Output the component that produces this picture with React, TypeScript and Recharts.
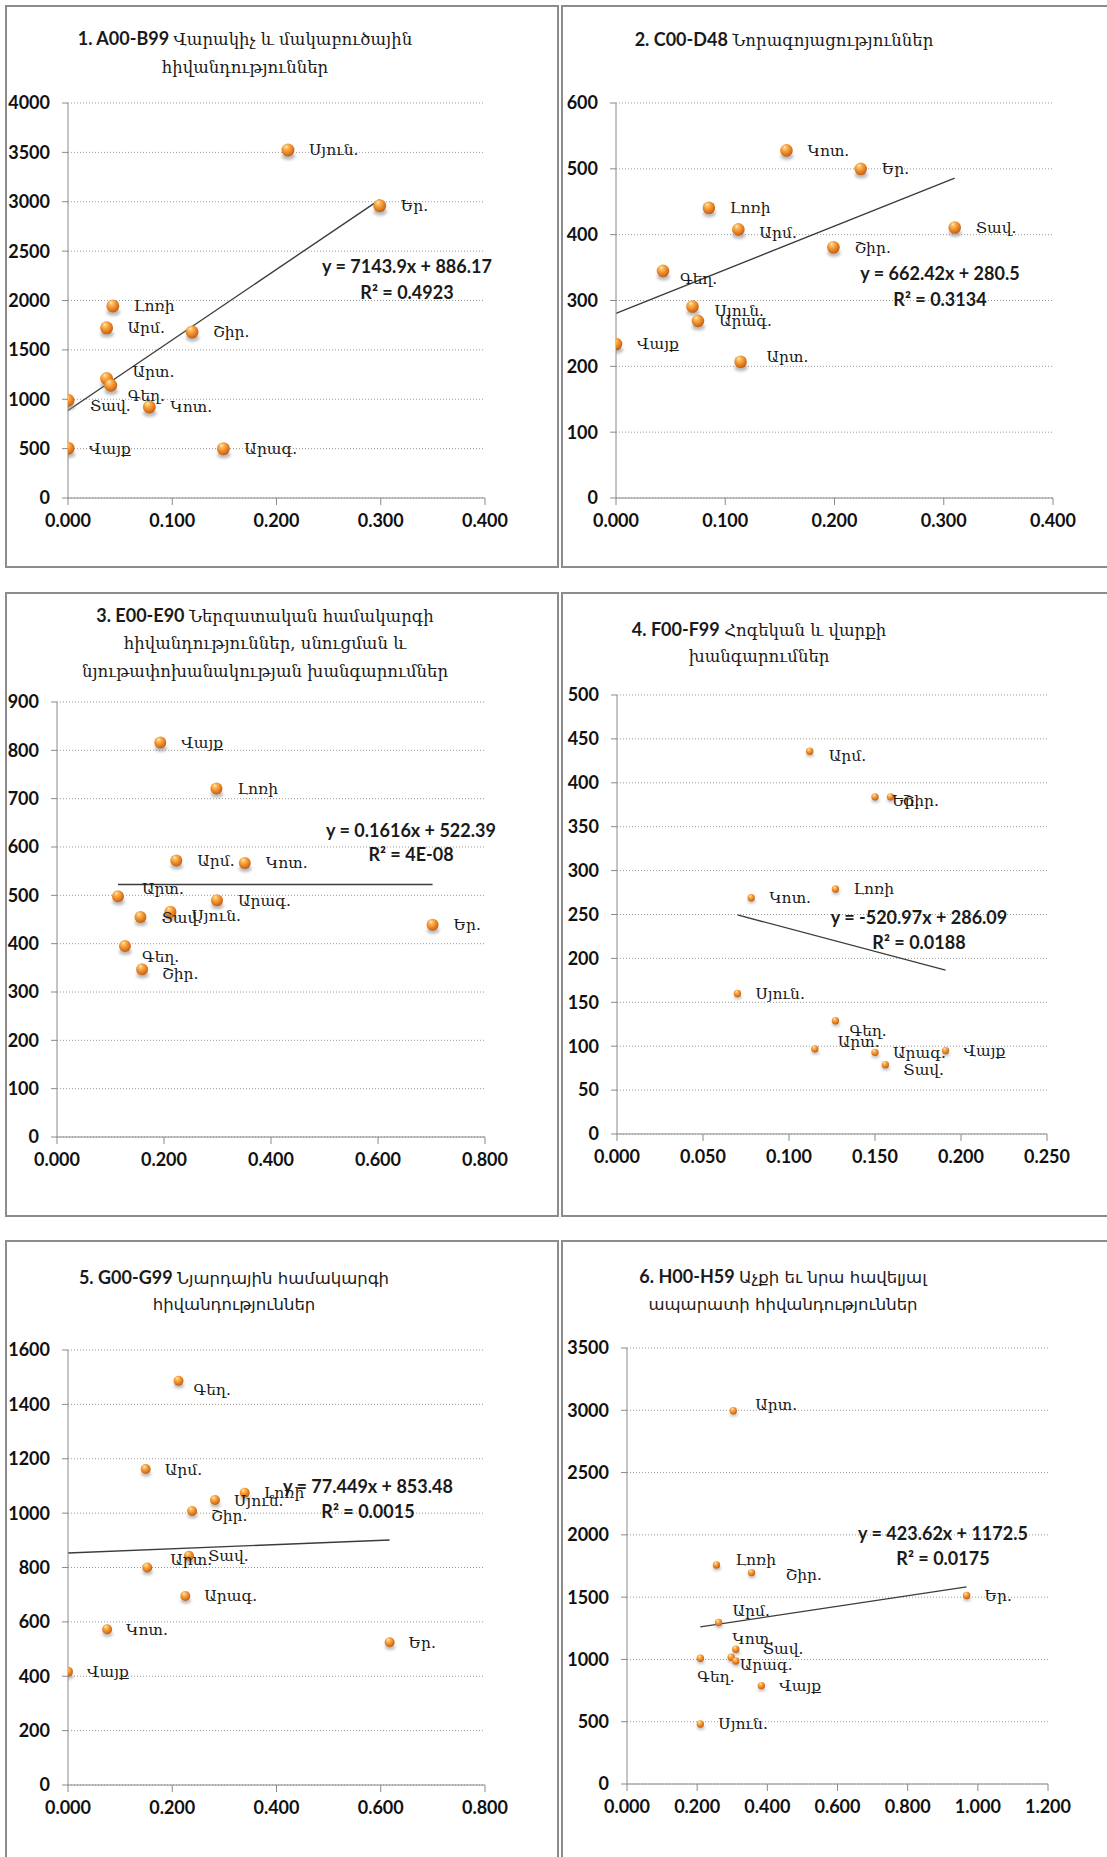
import React from 'react';
import { ScatterChart, Scatter, XAxis, YAxis, CartesianGrid, ReferenceLine } from 'recharts';

// ---- Panel 1: A00-B99 ----
const P1_NAMES = ['Սյուն.', 'Եր.', 'Լոռի', 'Արմ.', 'Շիր.', 'Արտ.', 'Գեղ.', 'Տավ.', 'Կոտ.', 'Վայք', 'Արագ.'];
const P1_X = [0.211, 0.299, 0.043, 0.037, 0.119, 0.037, 0.041, 0.0, 0.078, 0.0, 0.149];
const P1_Y = [3524, 2960, 1945, 1723, 1682, 1210, 1142, 990, 922, 505, 500];
const P1_XTICKS = [0, 0.1, 0.2, 0.3, 0.4];
const P1_YTICKS = [0, 500, 1000, 1500, 2000, 2500, 3000, 3500, 4000];
const P1_TREND = { slope: 7143.9, intercept: 886.17, r2: '0.4923' };

// ---- Panel 2: C00-D48 ----
const P2_NAMES = ['Կոտ.', 'Եր.', 'Լոռի', 'Արմ.', 'Տավ.', 'Շիր.', 'Գեղ.', 'Սյուն.', 'Արագ.', 'Վայք', 'Արտ.'];
const P2_X = [0.156, 0.224, 0.085, 0.112, 0.31, 0.199, 0.043, 0.07, 0.075, 0.0, 0.114];
const P2_Y = [528, 500, 441, 408, 411, 381, 345, 291, 269, 234, 207];
const P2_XTICKS = [0, 0.1, 0.2, 0.3, 0.4];
const P2_YTICKS = [0, 100, 200, 300, 400, 500, 600];
const P2_TREND = { slope: 662.42, intercept: 280.5, r2: '0.3134' };

// ---- Panel 3: E00-E90 ----
const P3_NAMES = ['Վայք', 'Լոռի', 'Արմ.', 'Կոտ.', 'Արտ.', 'Արագ.', 'Տավ.', 'Սյուն.', 'Եր.', 'Գեղ.', 'Շիր.'];
const P3_X = [0.193, 0.298, 0.223, 0.351, 0.114, 0.299, 0.156, 0.212, 0.702, 0.127, 0.159];
const P3_Y = [816, 721, 572, 567, 498, 490, 455, 466, 439, 395, 347];
const P3_XTICKS = [0, 0.2, 0.4, 0.6, 0.8];
const P3_YTICKS = [0, 100, 200, 300, 400, 500, 600, 700, 800, 900];
const P3_TREND = { slope: 0.1616, intercept: 522.39, r2: '4E-08' };

// ---- Panel 4: F00-F99 ----
const P4_NAMES = ['Արմ.', 'Եր.', 'Շիր.', 'Կոտ.', 'Լոռի', 'Սյուն.', 'Գեղ.', 'Արտ.', 'Արագ.', 'Տավ.', 'Վայք'];
const P4_X = [0.112, 0.15, 0.159, 0.078, 0.127, 0.07, 0.127, 0.115, 0.15, 0.156, 0.191];
const P4_Y = [436, 384, 384, 269, 279, 160, 129, 97, 93, 79, 95];
const P4_XTICKS = [0, 0.05, 0.1, 0.15, 0.2, 0.25];
const P4_YTICKS = [0, 50, 100, 150, 200, 250, 300, 350, 400, 450, 500];
const P4_TREND = { slope: -520.97, intercept: 286.09, r2: '0.0188' };

// ---- Panel 5: G00-G99 ----
const P5_NAMES = ['Գեղ.', 'Արմ.', 'Լոռի', 'Սյուն.', 'Շիր.', 'Տավ.', 'Արտ.', 'Արագ.', 'Կոտ.', 'Եր.', 'Վայք'];
const P5_X = [0.212, 0.149, 0.339, 0.282, 0.238, 0.232, 0.152, 0.225, 0.075, 0.617, 0.0];
const P5_Y = [1487, 1162, 1075, 1048, 1008, 843, 800, 695, 573, 525, 417];
const P5_XTICKS = [0, 0.2, 0.4, 0.6, 0.8];
const P5_YTICKS = [0, 200, 400, 600, 800, 1000, 1200, 1400, 1600];
const P5_TREND = { slope: 77.449, intercept: 853.48, r2: '0.0015' };

// ---- Panel 6: H00-H59 ----
const P6_NAMES = ['Արտ.', 'Լոռի', 'Շիր.', 'Եր.', 'Արմ.', 'Կոտ.', 'Տավ.', 'Արագ.', 'Գեղ.', 'Վայք', 'Սյուն.'];
const P6_X = [0.303, 0.255, 0.355, 0.968, 0.261, 0.297, 0.31, 0.31, 0.209, 0.383, 0.209];
const P6_Y = [2996, 1759, 1697, 1513, 1296, 1018, 1082, 988, 1010, 790, 482];
const P6_XTICKS = [0, 0.2, 0.4, 0.6, 0.8, 1.0, 1.2];
const P6_YTICKS = [0, 500, 1000, 1500, 2000, 2500, 3000, 3500];
const P6_TREND = { slope: 423.62, intercept: 1172.5, r2: '0.0175' };

// Titles: bold code followed by the group name (wrapped lines)
const P1_TITLE = { code: '1. A00-B99', lines: ['Վարակիչ և մակաբուծային', 'հիվանդություններ'] };
const P2_TITLE = { code: '2. C00-D48', lines: ['Նորագոյացություններ'] };
const P3_TITLE = { code: '3. E00-E90', lines: ['Ներզատական համակարգի', 'հիվանդություններ, սնուցման և', 'նյութափոխանակության խանգարումներ'] };
const P4_TITLE = { code: '4. F00-F99', lines: ['Հոգեկան և վարքի', 'խանգարումներ'] };
const P5_TITLE = { code: '5. G00-G99', lines: ['Նյարդային համակարգի', 'հիվանդություններ'] };
const P6_TITLE = { code: '6. H00-H59', lines: ['Աչքի եւ նրա հավելյալ', 'ապարատի հիվանդություններ'] };

type Box = { left: number; top: number; w: number; h: number };
type Plot = { x0: number; x1: number; y0: number; y1: number };

type PanelCfg = {
  names: string[];
  xs: number[];
  ys: number[];
  xTicks: number[];
  yTicks: number[];
  trend: { slope: number; intercept: number; r2: string };
  title: { code: string; lines: string[] };
  box: Box;
  plot: Plot;
  radius: number;
  labelDx: number;
  nudges: Record<string, [number, number]>;
  titlePos: { cx: number; cy: number; lh: number; serif: boolean };
  eqPos: { cx: number; cy1: number; cy2: number };
};

const X_AXIS_H = 44;
const TICK_STYLE = { fill: '#111', fontSize: 18, fontWeight: 700, fontFamily: 'Lato, "DejaVu Sans", sans-serif' };
const LABEL_FONT = '"DejaVu Serif", serif';

const PANELS: PanelCfg[] = [
  {
    names: P1_NAMES, xs: P1_X, ys: P1_Y, xTicks: P1_XTICKS, yTicks: P1_YTICKS, trend: P1_TREND, title: P1_TITLE,
    box: { left: 5, top: 5, w: 554, h: 563 },
    plot: { x0: 68, x1: 485, y0: 103, y1: 498 },
    radius: 6.5, labelDx: 21,
    nudges: { 'Արտ.': [26, -7], 'Գեղ.': [17, 10], 'Տավ.': [22, 5] },
    titlePos: { cx: 245, cy: 39, lh: 29, serif: true },
    eqPos: { cx: 407, cy1: 266, cy2: 292 },
  },
  {
    names: P2_NAMES, xs: P2_X, ys: P2_Y, xTicks: P2_XTICKS, yTicks: P2_YTICKS, trend: P2_TREND, title: P2_TITLE,
    box: { left: 561, top: 5, w: 560, h: 563 },
    plot: { x0: 616, x1: 1053, y0: 103, y1: 498 },
    radius: 6.3, labelDx: 21,
    nudges: { 'Գեղ.': [17, 8], 'Սյուն.': [22, 4], 'Արտ.': [26, -5], 'Արմ.': [21, 3] },
    titlePos: { cx: 784, cy: 40, lh: 29, serif: true },
    eqPos: { cx: 940, cy1: 273, cy2: 299 },
  },
  {
    names: P3_NAMES, xs: P3_X, ys: P3_Y, xTicks: P3_XTICKS, yTicks: P3_YTICKS, trend: P3_TREND, title: P3_TITLE,
    box: { left: 5, top: 592, w: 554, h: 625 },
    plot: { x0: 57, x1: 485, y0: 702, y1: 1137 },
    radius: 6, labelDx: 21,
    nudges: { 'Արտ.': [24, -8], 'Սյուն.': [21, 4], 'Գեղ.': [17, 10], 'Շիր.': [20, 4] },
    titlePos: { cx: 265, cy: 616, lh: 28, serif: true },
    eqPos: { cx: 411, cy1: 830, cy2: 854 },
  },
  {
    names: P4_NAMES, xs: P4_X, ys: P4_Y, xTicks: P4_XTICKS, yTicks: P4_YTICKS, trend: P4_TREND, title: P4_TITLE,
    box: { left: 561, top: 592, w: 560, h: 625 },
    plot: { x0: 617, x1: 1047, y0: 695, y1: 1134 },
    radius: 3.7, labelDx: 18,
    nudges: { 'Գեղ.': [14, 10], 'Արտ.': [23, -7], 'Եր.': [17, 4], 'Շիր.': [12, 4], 'Տավ.': [18, 5], 'Արմ.': [19, 4] },
    titlePos: { cx: 759, cy: 630, lh: 27, serif: true },
    eqPos: { cx: 919, cy1: 917, cy2: 942 },
  },
  {
    names: P5_NAMES, xs: P5_X, ys: P5_Y, xTicks: P5_XTICKS, yTicks: P5_YTICKS, trend: P5_TREND, title: P5_TITLE,
    box: { left: 5, top: 1240, w: 554, h: 640 },
    plot: { x0: 68, x1: 485, y0: 1350, y1: 1785 },
    radius: 5, labelDx: 19,
    nudges: { 'Գեղ.': [15, 9], 'Արտ.': [23, -8], 'Շիր.': [19, 5] },
    titlePos: { cx: 234, cy: 1278, lh: 27, serif: false },
    eqPos: { cx: 368, cy1: 1486, cy2: 1511 },
  },
  {
    names: P6_NAMES, xs: P6_X, ys: P6_Y, xTicks: P6_XTICKS, yTicks: P6_YTICKS, trend: P6_TREND, title: P6_TITLE,
    box: { left: 561, top: 1240, w: 560, h: 640 },
    plot: { x0: 627, x1: 1048, y0: 1348, y1: 1784 },
    radius: 3.7, labelDx: 18,
    nudges: {
      'Արտ.': [22, -6], 'Լոռի': [19, -5], 'Շիր.': [34, 2], 'Արմ.': [14, -12], 'Կոտ.': [1, -19],
      'Տավ.': [27, -1], 'Արագ.': [4, 4], 'Գեղ.': [-3, 18],
    },
    titlePos: { cx: 783, cy: 1277, lh: 28, serif: false },
    eqPos: { cx: 943, cy1: 1533, cy2: 1558 },
  },
];

function Ball({ cx, cy, r }: { cx: number; cy: number; r: number }) {
  if (cx == null || cy == null) return null;
  return (
    <g>
      <ellipse cx={cx + 0.5} cy={cy + r * 0.95} rx={r * 1.05} ry={r * 0.55} fill="#8a8a8a" opacity={0.6} filter="url(#ballShadow)" />
      <circle cx={cx} cy={cy} r={r} fill="url(#ballFill)" />
    </g>
  );
}

function PointLabel({ cx, cy, name, cfg }: { cx: number; cy: number; name: string; cfg: PanelCfg }) {
  if (cx == null || cy == null) return null;
  const n = cfg.nudges[name] || [cfg.labelDx, 0];
  return (
    <text x={cx + n[0]} y={cy + n[1]} dy="0.35em" fontFamily={LABEL_FONT} fontSize={15.5} fill="#1a1a1a" textAnchor="start">
      {name}
    </text>
  );
}

function Panel({ cfg }: { cfg: PanelCfg }) {
  const data = cfg.names.map((name, i) => ({ name, x: cfg.xs[i], y: cfg.ys[i] }));
  const xMin = Math.min(...cfg.xs);
  const xMax = Math.max(...cfg.xs);
  const seg = [
    { x: xMin, y: cfg.trend.slope * xMin + cfg.trend.intercept },
    { x: xMax, y: cfg.trend.slope * xMax + cfg.trend.intercept },
  ];
  const { box, plot } = cfg;
  const margin = {
    top: plot.y0 - box.top,
    right: box.left + box.w - plot.x1,
    bottom: box.top + box.h - plot.y1 - X_AXIS_H,
    left: 0,
  };
  const xDomainMax = cfg.xTicks[cfg.xTicks.length - 1];
  const yDomainMax = cfg.yTicks[cfg.yTicks.length - 1];
  const eqText = `y = ${cfg.trend.slope}x + ${cfg.trend.intercept}`;
  const tp = cfg.titlePos;
  const titleFont = tp.serif ? LABEL_FONT : '"DejaVu Sans", sans-serif';
  const eqStyle: React.CSSProperties = {
    position: 'absolute', left: cfg.eqPos.cx, transform: 'translate(-50%, -50%)',
    whiteSpace: 'nowrap', lineHeight: 1, fontFamily: 'Lato, sans-serif', fontWeight: 700, fontSize: 18, color: '#1a1a1a',
  };

  return (
    <>
      <div
        style={{
          position: 'absolute', left: box.left, top: box.top, width: box.w, height: box.h,
          border: '2px solid #8c8c8c', boxSizing: 'border-box', background: '#fff',
        }}
      />
      <div style={{ position: 'absolute', left: box.left, top: box.top }}>
        <ScatterChart width={box.w} height={box.h} margin={margin} style={{ overflow: 'visible' }}>
          <CartesianGrid vertical={false} stroke="#9a9a9a" strokeDasharray="1 2" />
          <XAxis
            type="number" dataKey="x" domain={[0, xDomainMax]} ticks={cfg.xTicks} interval={0}
            tickFormatter={(v: number) => v.toFixed(3)} height={X_AXIS_H} tickSize={7} tickMargin={9}
            stroke="#8a8a8a" tick={TICK_STYLE} allowDataOverflow
          />
          <YAxis
            type="number" dataKey="y" domain={[0, yDomainMax]} ticks={cfg.yTicks} interval={0}
            width={plot.x0 - box.left} tickSize={6} tickMargin={12}
            stroke="#8a8a8a" tick={TICK_STYLE} allowDataOverflow
          />
          <ReferenceLine segment={seg} stroke="#3c3c3c" strokeWidth={1.4} ifOverflow="visible" />
          <Scatter
            data={data} isAnimationActive={false}
            shape={(p: any) => <Ball cx={p.cx} cy={p.cy} r={cfg.radius} />}
          />
          <Scatter
            data={data} isAnimationActive={false}
            shape={(p: any) => <PointLabel cx={p.cx} cy={p.cy} name={p.payload?.name ?? p.name} cfg={cfg} />}
          />
        </ScatterChart>
      </div>
      {cfg.title.lines.map((line, i) => (
        <div
          key={i}
          style={{
            position: 'absolute', left: tp.cx, top: tp.cy + i * tp.lh, transform: 'translate(-50%, -50%)',
            whiteSpace: 'nowrap', lineHeight: 1, color: '#1a1a1a',
          }}
        >
          {i === 0 && (
            <span style={{ fontFamily: 'Lato, sans-serif', fontWeight: 700, fontSize: 18 }}>{cfg.title.code} </span>
          )}
          <span style={{ fontFamily: titleFont, fontSize: 16.5 }}>{line}</span>
        </div>
      ))}
      <div style={{ ...eqStyle, top: cfg.eqPos.cy1 }}>{eqText}</div>
      <div style={{ ...eqStyle, top: cfg.eqPos.cy2 }}>R² = {cfg.trend.r2}</div>
    </>
  );
}

export default function App() {
  return (
    <div
      style={{
        position: 'absolute', left: 0, top: 0, width: 1107, height: 1857, overflow: 'hidden', background: '#fff',
      }}
    >
      <svg width={0} height={0} style={{ position: 'absolute' }}>
        <defs>
          <radialGradient id="ballFill" cx="0.42" cy="0.38" r="0.66" fx="0.36" fy="0.24">
            <stop offset="0%" stopColor="#fff4cf" />
            <stop offset="18%" stopColor="#fcc46a" />
            <stop offset="55%" stopColor="#ef8f2c" />
            <stop offset="88%" stopColor="#cf6716" />
            <stop offset="100%" stopColor="#a9500e" />
          </radialGradient>
          <filter id="ballShadow" x="-60%" y="-80%" width="220%" height="260%">
            <feGaussianBlur stdDeviation="1.6" />
          </filter>
        </defs>
      </svg>
      {PANELS.map((cfg, i) => (
        <Panel key={i} cfg={cfg} />
      ))}
    </div>
  );
}
